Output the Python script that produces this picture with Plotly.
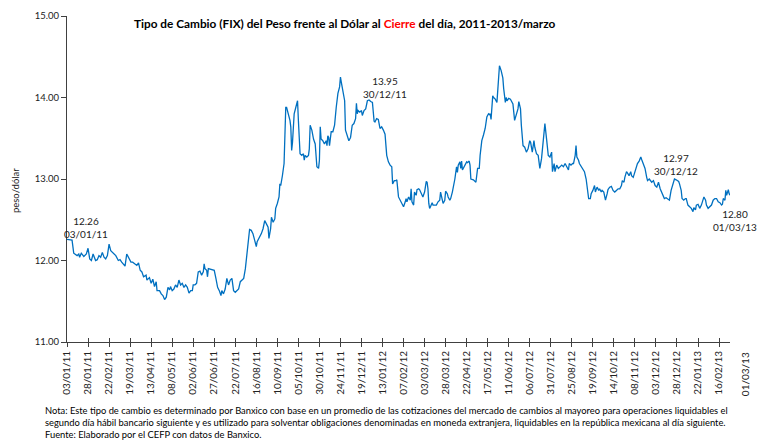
import plotly.graph_objects as go

# ---------------- data ----------------
md_2011 = ["01-03","01-09","01-11","01-15","01-17","01-18","01-20","01-23","01-26","01-28","01-30",
           "02-01","02-03","02-06","02-08","02-10","02-12","02-14","02-16","02-18","02-20","02-22","02-24","02-26","02-28",
           "03-02","03-05","03-07","03-09","03-11","03-13","03-15","03-17","03-20","03-22","03-24","03-27","03-29","03-31",
           "04-02","04-04","04-07","04-08","04-11","04-13","04-15","04-17","04-19","04-20","04-23","04-25","04-27","04-29",
           "05-01","05-03","05-05","05-06","05-08","05-10","05-12","05-14","05-16","05-18","05-20","05-22","05-24","05-26","05-28","05-30",
           "06-01","06-02","06-04","06-06","06-08","06-10","06-12","06-14","06-15","06-16","06-18","06-19","06-20","06-23","06-27","06-29",
           "07-01","07-03","07-05","07-06","07-08","07-10","07-12","07-14","07-16","07-18","07-20","07-22","07-24","07-26","07-28","07-30",
           "08-01","08-03","08-05","08-07","08-08","08-10","08-12","08-14","08-16","08-17","08-18","08-20","08-22","08-24","08-26","08-28","08-30","08-31",
           "09-02","09-03","09-05","09-07","09-08","09-10","09-12","09-13","09-14","09-16","09-18","09-20","09-21","09-23","09-25","09-26","09-27","09-28","09-30",
           "10-02","10-04","10-05","10-07","10-09","10-11","10-12","10-13","10-15","10-17","10-18","10-19","10-21","10-23","10-25","10-27","10-29","10-30","10-31",
           "11-01","11-03","11-05","11-07","11-08","11-09","11-10","11-11","11-13","11-15","11-17","11-19","11-21","11-23","11-24","11-25","11-27","11-29","11-30",
           "12-02","12-04","12-06","12-08","12-10","12-12","12-13","12-14","12-15","12-17","12-19","12-20","12-22","12-24","12-26","12-28","12-30"]
fix_2011 = [12.26,12.25,12.09,12.06,12.08,12.04,12.09,12.05,12.08,12.15,12.02,
            12.00,12.08,12.00,12.01,12.06,12.04,12.10,12.04,12.02,12.06,12.20,12.12,12.10,12.08,
            12.06,12.00,12.01,11.98,11.96,11.93,12.08,12.04,11.98,11.98,11.96,11.94,11.97,11.88,
            11.86,11.80,11.82,11.76,11.79,11.72,11.77,11.68,11.74,11.63,11.63,11.59,11.57,11.52,
            11.55,11.67,11.64,11.68,11.63,11.65,11.70,11.67,11.76,11.70,11.72,11.67,11.70,11.67,11.60,11.63,
            11.63,11.70,11.70,11.72,11.86,11.87,11.82,11.86,11.96,11.90,11.88,11.80,11.90,11.89,11.88,11.78,
            11.67,11.63,11.57,11.63,11.59,11.65,11.78,11.70,11.76,11.78,11.63,11.61,11.63,11.65,11.74,11.76,
            11.78,11.90,12.08,12.30,12.38,12.37,12.33,12.25,12.17,12.23,12.25,12.27,12.33,12.39,12.49,12.45,12.41,12.27,
            12.39,12.53,12.47,12.51,12.64,12.70,12.78,12.94,12.92,13.04,13.19,13.88,13.88,13.80,13.72,13.64,13.35,13.45,13.80,
            13.88,13.96,13.72,13.31,13.29,13.31,13.23,13.29,13.27,13.29,13.37,13.66,13.60,13.49,13.43,13.15,13.13,13.23,13.64,
            13.49,13.47,13.43,13.47,13.41,13.53,13.51,13.41,13.58,13.58,13.66,13.88,14.05,14.13,14.25,14.19,14.07,13.96,13.60,
            13.54,13.47,13.51,13.66,13.68,13.74,13.93,13.80,13.84,13.82,13.84,13.78,13.84,13.86,13.96,13.97,13.95]

md_2012 = ["01-01","01-03","01-04","01-06","01-08","01-10","01-12","01-14","01-16","01-18","01-20","01-22","01-24","01-25","01-27","01-29","01-30",
           "02-01","02-03","02-05","02-07","02-09","02-10","02-11","02-13","02-15","02-16","02-17","02-18","02-19","02-20","02-22","02-23","02-25","02-26","02-28",
           "03-01","03-03","03-05","03-06","03-07","03-08","03-09","03-10","03-12","03-13","03-15","03-17","03-19","03-21","03-22","03-24","03-25","03-27","03-28","03-30","03-31",
           "04-02","04-03","04-05","04-07","04-08","04-10","04-11","04-12","04-14","04-15","04-16","04-17","04-19","04-20","04-22","04-23","04-25","04-26","04-27","04-30",
           "05-02","05-03","05-05","05-07","05-08","05-10","05-12","05-14","05-16","05-18","05-19","05-20","05-21","05-23","05-24","05-26","05-28","05-30","05-31",
           "06-02","06-04","06-05","06-07","06-08","06-09","06-11","06-13","06-14","06-16","06-18","06-20","06-22","06-23","06-25","06-26","06-28","06-30",
           "07-02","07-03","07-04","07-06","07-07","07-09","07-11","07-12","07-14","07-16","07-18","07-20","07-22","07-24","07-26","07-28","07-30",
           "08-01","08-02","08-04","08-05","08-07","08-09","08-11","08-13","08-15","08-17","08-19","08-21","08-22","08-24","08-26","08-27","08-29","08-30","08-31",
           "09-02","09-03","09-05","09-07","09-09","09-11","09-13","09-14","09-16","09-17","09-19","09-21","09-22","09-24","09-26","09-27","09-29","09-30",
           "10-02","10-04","10-06","10-07","10-09","10-11","10-13","10-15","10-17","10-19","10-21","10-23","10-24","10-26","10-27","10-29","10-31",
           "11-01","11-03","11-04","11-06","11-08","11-09","11-11","11-13","11-15","11-16","11-18","11-20","11-22","11-23","11-25","11-26","11-28","11-30",
           "12-02","12-04","12-06","12-08","12-10","12-12","12-13","12-15","12-17","12-19","12-21","12-23","12-25","12-27","12-29","12-30","12-31"]
fix_2012 = [13.94,13.71,13.70,13.74,13.73,13.62,13.64,13.60,13.55,13.29,13.21,13.17,13.15,12.94,12.98,12.98,12.99,
            12.78,12.74,12.70,12.66,12.72,12.76,12.72,12.78,12.74,12.88,12.72,12.70,12.68,12.84,12.80,12.87,12.88,12.87,12.82,
            12.78,12.84,12.97,12.96,12.88,12.70,12.64,12.66,12.71,12.68,12.68,12.68,12.72,12.74,12.84,12.72,12.70,12.74,12.85,12.82,12.78,
            12.74,12.76,12.84,12.94,13.00,13.15,13.08,13.17,13.21,13.13,13.22,13.11,13.15,13.17,13.21,13.20,13.22,13.17,13.00,12.99,
            12.97,12.96,13.13,13.13,13.29,13.47,13.54,13.62,13.76,13.80,13.79,13.80,13.73,14.02,14.00,13.98,13.94,14.27,14.39,
            14.33,14.24,14.11,13.94,14.00,13.96,13.99,13.98,13.96,13.92,13.72,13.78,13.86,13.95,13.86,13.66,13.41,13.39,
            13.33,13.35,13.37,13.47,13.45,13.33,13.47,13.39,13.31,13.29,13.13,13.25,13.51,13.68,13.49,13.29,13.27,
            13.33,13.09,13.19,13.09,13.17,13.13,13.15,13.17,13.15,13.19,13.15,13.11,13.19,13.17,13.19,13.19,13.29,13.41,13.27,
            13.23,13.19,13.15,13.11,13.09,13.00,12.86,12.76,12.76,12.82,12.86,12.92,12.84,12.90,12.86,12.88,12.84,12.86,
            12.84,12.74,12.82,12.87,12.90,12.91,12.86,12.84,12.86,12.88,12.88,12.92,12.98,12.96,13.02,13.09,13.06,
            13.04,13.09,13.04,13.02,13.09,13.15,13.19,13.22,13.27,13.24,13.19,13.13,13.02,12.98,13.00,12.98,12.96,12.98,
            12.92,12.90,12.96,12.88,12.84,12.78,12.76,12.77,12.75,12.74,12.86,12.94,13.00,12.99,12.97,12.97,12.94]

md_2013 = ["01-02","01-03","01-05","01-07","01-08","01-10","01-12","01-14","01-16","01-17","01-19","01-20","01-22","01-24","01-26","01-28","01-29","01-31",
           "02-01","02-03","02-05","02-07","02-09","02-11","02-13","02-15","02-17","02-19","02-20","02-21","02-23","02-24","02-25","02-27","02-28",
           "03-01"]
fix_2013 = [12.86,12.76,12.74,12.76,12.76,12.68,12.66,12.64,12.60,12.65,12.62,12.68,12.69,12.64,12.68,12.74,12.78,12.74,
            12.68,12.64,12.66,12.68,12.74,12.76,12.76,12.72,12.71,12.68,12.69,12.76,12.74,12.86,12.80,12.87,12.82,
            12.80]

x_start = "2011-01-03"
x_end = "2013-03-01"
y_ticks = [11, 12, 13, 14, 15]

title_html = ("<b>Tipo de Cambio (FIX) del Peso frente al Dólar al "
              "<span style='color:#FF0000'>Cierre</span> del día, 2011-2013/marzo</b>")
y_title = "peso/dólar"
labels = [("12.26<br>03/01/11", 0.0294, 0.350),
          ("13.95<br>30/12/11", 0.4796, 0.782),
          ("12.97<br>30/12/12", 0.9186, 0.545),
          ("12.80<br>01/03/13", 1.0075, 0.373)]
last_tick = "01/03/13"
note = ("Nota: Este tipo de cambio es determinado por Banxico con base en un promedio de las cotizaciones del mercado de cambios al mayoreo para operaciones liquidables el<br>"
        "segundo día hábil bancario siguiente y es utilizado para solventar obligaciones denominadas en moneda extranjera, liquidables en la república mexicana al día siguiente.<br>"
        "Fuente: Elaborado por el CEFP con datos de Banxico.")

# ---------------- figure ----------------
dates = (["2011-" + s for s in md_2011] + ["2012-" + s for s in md_2012] +
         ["2013-" + s for s in md_2013])
values = fix_2011 + fix_2012 + fix_2013

FONT = "Lato, 'Open Sans', sans-serif"
AX = "#404040"
TXT = "#222222"

fig = go.Figure()
fig.add_trace(go.Scatter(x=dates, y=values, mode="lines",
                         line=dict(color="#0070C0", width=1.3), hoverinfo="x+y"))
# invisible copy on an overlaid axis, only so that the inner half of the crossing ticks is drawn
fig.add_trace(go.Scatter(x=dates, y=values, mode="lines", xaxis="x2", yaxis="y2",
                         line=dict(width=0), opacity=0, hoverinfo="skip"))

fig.update_layout(
    width=757, height=441,
    margin=dict(l=67, r=27, t=16, b=99, autoexpand=False),
    paper_bgcolor="white", plot_bgcolor="white",
    showlegend=False,
    font=dict(family=FONT, size=10, color=TXT),
    xaxis=dict(
        type="date", range=[x_start, x_end],
        tick0=x_start, dtick=25 * 86400000, tickformat="%d/%m/%y", tickangle=-90,
        ticks="outside", ticklen=4, tickcolor=AX, tickwidth=1,
        showline=True, linecolor=AX, linewidth=1,
        showgrid=False, zeroline=False,
        tickfont=dict(family=FONT, size=10, color=TXT),
    ),
    xaxis2=dict(
        type="date", range=[x_start, x_end], overlaying="x",
        tick0=x_start, dtick=25 * 86400000, ticks="inside", ticklen=4,
        tickcolor=AX, tickwidth=1, showticklabels=False, showline=False,
        showgrid=False, zeroline=False, anchor="y2",
    ),
    yaxis=dict(
        range=[11, 15], tickvals=y_ticks, tickformat=".2f",
        ticks="outside", ticklen=5, tickcolor=AX,
        showline=True, linecolor=AX, linewidth=1,
        showgrid=False, zeroline=False,
        tickfont=dict(family=FONT, size=9.5, color=TXT),
    ),
    yaxis2=dict(range=[11, 15], overlaying="y", visible=False),
)

fig.add_annotation(text=title_html, xref="paper", yref="paper", x=0.419, y=0.977,
                   xanchor="center", yanchor="middle",
                   showarrow=False, font=dict(family=FONT, size=11.8, color="#000000"))
fig.add_annotation(text=y_title, xref="paper", yref="paper", x=-0.0774, y=0.465,
                   xanchor="center", yanchor="middle",
                   textangle=-90, showarrow=False, font=dict(family=FONT, size=9.5, color=TXT))
for txt, px, py in labels:
    fig.add_annotation(text=txt, xref="paper", yref="paper", x=px, y=py,
                       xanchor="center", yanchor="middle",
                       showarrow=False, font=dict(family=FONT, size=10, color=TXT))
fig.add_annotation(text=last_tick, xref="paper", yref="paper", x=1.0226, y=-0.025,
                   xanchor="center", yanchor="top", textangle=-90, showarrow=False,
                   font=dict(family=FONT, size=10, color=TXT))
fig.add_annotation(text=note, xref="paper", yref="paper", x=-0.0362, y=-0.187,
                   xanchor="left", yanchor="top", align="left", showarrow=False,
                   font=dict(family=FONT, size=9.35, color="#000000"))

fig.write_html("out.html", config={"displayModeBar": False},
               post_script="document.body.style.margin='0px';")
